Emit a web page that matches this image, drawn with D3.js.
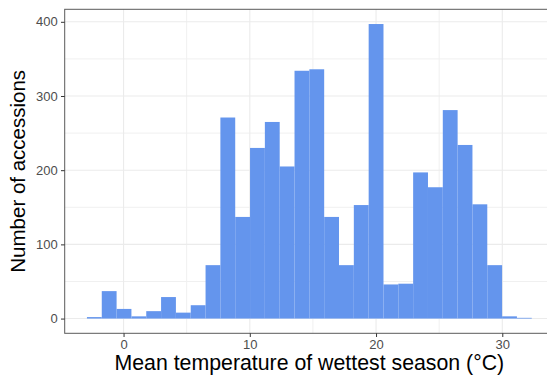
<!DOCTYPE html>
<html>
<head>
<meta charset="utf-8">
<script src="https://cdn.jsdelivr.net/npm/d3@7"></script>
<style>
  html, body { margin: 0; padding: 0; background: #fff; }
  svg { display: block; }
  text { font-family: "Liberation Sans", Helvetica, Arial, sans-serif; }
</style>
</head>
<body>
<svg id="chart" width="547" height="376"></svg>
<script>
// Histogram: 30 equal-width bins of mean temperature of the wettest season
const binStart = -2.9;
const binWidth = 1.1745;
const counts = [2, 37, 13, 3, 10, 29, 8, 18, 72, 271, 137, 230, 265, 205, 334,
                336, 137, 72, 153, 397, 46, 47, 197, 177, 281, 234, 154, 72, 3, 1];
const xTicks = [0, 10, 20, 30];
const xMinor = [5, 15, 25];
const yTicks = [0, 100, 200, 300, 400];
const yMinor = [50, 150, 250, 350];
const xTitle = "Mean temperature of wettest season (°C)";
const yTitle = "Number of accessions";

const bins = counts.map((c, i) => ({
  x0: binStart + i * binWidth,
  x1: binStart + (i + 1) * binWidth,
  n: c
}));

const panel = { left: 64.7, right: 554, top: 9.3, bottom: 333.3 };

// ggplot-style 5% expansion on both axes
const xLo = bins[0].x0, xHi = bins[bins.length - 1].x1;
const xPad = (xHi - xLo) * 0.05;
const yMax = d3.max(counts);
const yPad = yMax * 0.05;

const x = d3.scaleLinear().domain([xLo - xPad, xHi + xPad]).range([panel.left, panel.right]);
const y = d3.scaleLinear().domain([-yPad, yMax + yPad]).range([panel.bottom, panel.top]);

const svg = d3.select("#chart");

// grid
const grid = svg.append("g");
grid.selectAll("line.xminor").data(xMinor).join("line")
  .attr("x1", d => x(d)).attr("x2", d => x(d))
  .attr("y1", panel.top).attr("y2", panel.bottom)
  .attr("stroke", "#f0f0f0").attr("stroke-width", 1);
grid.selectAll("line.yminor").data(yMinor).join("line")
  .attr("y1", d => y(d)).attr("y2", d => y(d))
  .attr("x1", panel.left).attr("x2", panel.right)
  .attr("stroke", "#f0f0f0").attr("stroke-width", 1);
grid.selectAll("line.xmajor").data(xTicks).join("line")
  .attr("x1", d => x(d)).attr("x2", d => x(d))
  .attr("y1", panel.top).attr("y2", panel.bottom)
  .attr("stroke", "#ebebeb").attr("stroke-width", 1.1);
grid.selectAll("line.ymajor").data(yTicks).join("line")
  .attr("y1", d => y(d)).attr("y2", d => y(d))
  .attr("x1", panel.left).attr("x2", panel.right)
  .attr("stroke", "#ebebeb").attr("stroke-width", 1.1);

// bars
svg.append("g").selectAll("rect").data(bins).join("rect")
  .attr("x", d => x(d.x0))
  .attr("width", d => x(d.x1) - x(d.x0))
  .attr("y", d => y(d.n))
  .attr("height", d => y(0) - y(d.n))
  .attr("fill", "#6495ed");

// panel border
svg.append("rect")
  .attr("x", panel.left).attr("y", panel.top)
  .attr("width", panel.right - panel.left).attr("height", panel.bottom - panel.top)
  .attr("fill", "none").attr("stroke", "#5a5a5a").attr("stroke-width", 1);

// axes
const xAxis = svg.append("g")
  .attr("transform", `translate(0,${panel.bottom})`)
  .call(d3.axisBottom(x).tickValues(xTicks).tickSize(3.7).tickPadding(3.2).tickFormat(d3.format("d")));
const yAxis = svg.append("g")
  .attr("transform", `translate(${panel.left},0)`)
  .call(d3.axisLeft(y).tickValues(yTicks).tickSize(3.7).tickPadding(3.3).tickFormat(d3.format("d")));
[xAxis, yAxis].forEach(a => {
  a.select(".domain").remove();
  a.selectAll(".tick line").attr("stroke", "#333");
  a.selectAll(".tick text")
    .attr("fill", "#4d4d4d")
    .style("font-size", "13px")
    .style("font-family", "'Liberation Sans', Helvetica, Arial, sans-serif");
});

// axis titles
svg.append("text")
  .attr("x", (panel.left + panel.right) / 2)
  .attr("y", 370)
  .attr("text-anchor", "middle")
  .style("font-size", "21.3px")
  .attr("fill", "#000")
  .text(xTitle);
svg.append("text")
  .attr("transform", `translate(25,${(panel.top + panel.bottom) / 2}) rotate(-90)`)
  .attr("text-anchor", "middle")
  .style("font-size", "20.5px")
  .attr("fill", "#000")
  .text(yTitle);
</script>
</body>
</html>
